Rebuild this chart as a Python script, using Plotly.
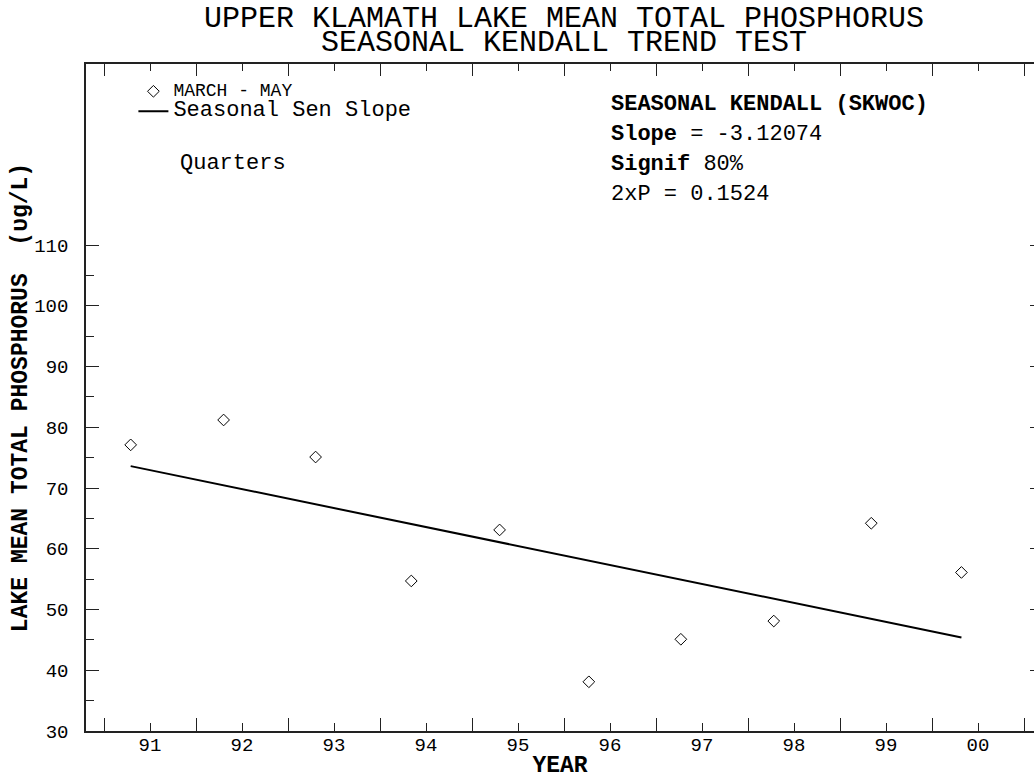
import plotly.graph_objects as go

# ---- data ----
years = [1991.29, 1992.30, 1993.30, 1994.34, 1995.30, 1996.27, 1997.27, 1998.28, 1999.34, 2000.32]
tp_values = [77.1, 81.2, 75.1, 54.7, 63.1, 38.1, 45.1, 48.1, 64.2, 56.1]
sen_x = [1991.29, 2000.32]
sen_y = [73.6, 45.4]
year_labels = ["91", "92", "93", "94", "95", "96", "97", "98", "99", "00"]
year_centers = [1991.5 + i for i in range(10)]
year_bounds = [1991 + i for i in range(11)]
y_major = [30, 40, 50, 60, 70, 80, 90, 100, 110]
y_minor = [35, 45, 55, 65, 75, 85, 95, 105]

FONT = "Liberation Mono"
W, H = 1034, 779
ML, MR, MT, MB = 86, 0, 64, 48
xr = [1991 - 18 / 92, 1991 + (W - 104) / 92]
yr = [30, 139.8]

fig = go.Figure()
fig.add_trace(go.Scatter(
    x=years, y=tp_values, mode="markers", xaxis="x", yaxis="y",
    name='<span style="font-size:18px">MARCH - MAY</span>',
    marker=dict(symbol="diamond-open", size=9, color="black", line=dict(width=1, color="black")),
))
fig.add_trace(go.Scatter(
    x=sen_x, y=sen_y, mode="lines", xaxis="x2", yaxis="y2",
    name='<span style="font-size:22px">Seasonal Sen Slope</span>',
    line=dict(color="black", width=2),
))

axcol = "#222"
fig.update_layout(
    width=W, height=H,
    margin=dict(l=ML, r=MR, t=MT, b=MB, autoexpand=False),
    paper_bgcolor="white", plot_bgcolor="white",
    font=dict(family=FONT, color="black"),
    showlegend=True,
    legend=dict(x=0.05, y=0.9815, xanchor="left", yanchor="top",
                font=dict(family=FONT, size=13, color="black"),
                bgcolor="rgba(0,0,0,0)", tracegroupgap=0),
    xaxis=dict(
        range=xr, showgrid=False, zeroline=False, automargin=False,
        showline=True, linecolor=axcol, linewidth=1.5,
        tickmode="array", tickvals=year_centers, ticktext=year_labels,
        ticks="inside", ticklen=8, tickwidth=1.2, tickcolor=axcol,
        tickfont=dict(family=FONT, size=19, color="black"),
        ticklabelstandoff=-5,
        minor=dict(tickmode="array", tickvals=year_bounds, ticks="inside",
                   ticklen=13, tickwidth=1.2, tickcolor=axcol, showgrid=False),
        title=dict(text="<b>YEAR</b>", font=dict(family=FONT, size=23, color="black"), standoff=0),
    ),
    xaxis2=dict(
        overlaying="x", matches="x", side="top", anchor="y2", range=xr, automargin=False,
        showgrid=False, zeroline=False, showline=True, linecolor=axcol, linewidth=1.5,
        tickmode="array", tickvals=year_bounds, ticks="inside", ticklen=12,
        tickwidth=1.2, tickcolor=axcol, showticklabels=False,
        minor=dict(tickmode="array", tickvals=year_centers, ticks="inside",
                   ticklen=7, tickwidth=1.2, tickcolor=axcol, showgrid=False),
    ),
    yaxis=dict(
        range=yr, showgrid=False, zeroline=False, automargin=False,
        showline=True, linecolor=axcol, linewidth=1.5,
        tickmode="array", tickvals=y_major,
        ticks="inside", ticklen=13, tickwidth=1.2, tickcolor=axcol,
        tickfont=dict(family=FONT, size=19, color="black"),
        ticklabelstandoff=12,
        minor=dict(tickmode="array", tickvals=y_minor, ticks="inside",
                   ticklen=8, tickwidth=1.2, tickcolor=axcol, showgrid=False),
        title=dict(text="<b>LAKE MEAN TOTAL PHOSPHORUS  (υg/L)</b>",
                   font=dict(family=FONT, size=23, color="black"), standoff=0),
    ),
    yaxis2=dict(
        overlaying="y", matches="y", side="right", anchor="x2", range=yr, automargin=False,
        showgrid=False, zeroline=False, showline=False,
        tickmode="array", tickvals=y_major, ticks="inside", ticklen=4,
        tickwidth=1.2, tickcolor=axcol, showticklabels=False,
    ),
)

def py(p):
    return (H - MB - p) / (H - MB - MT)

def px(p):
    return (p - ML) / (W - ML - MR)

annots = [
    ("UPPER KLAMATH LAKE MEAN TOTAL PHOSPHORUS", 564, 19, 30, "center"),
    ("SEASONAL KENDALL TREND TEST", 564, 43, 30, "center"),
    ("Quarters", 178, 163, 22, "left"),
    ("<b>SEASONAL KENDALL (SKWOC)</b>", 609, 104, 22, "left"),
    ("<b>Slope</b> = -3.12074", 609, 134, 22, "left"),
    ("<b>Signif</b> 80%", 609, 164, 22, "left"),
    ("2xP = 0.1524", 609, 194, 22, "left"),
]
for text, x, y, size, anchor in annots:
    fig.add_annotation(
        text=text, x=px(x), y=py(y), xref="paper", yref="paper",
        xanchor=anchor, yanchor="middle", showarrow=False,
        font=dict(family=FONT, size=size, color="black"),
    )

fig.write_html(
    "out.html",
    config={"displayModeBar": False},
    post_script="document.body.style.margin='0';document.body.style.overflow='hidden';",
)
